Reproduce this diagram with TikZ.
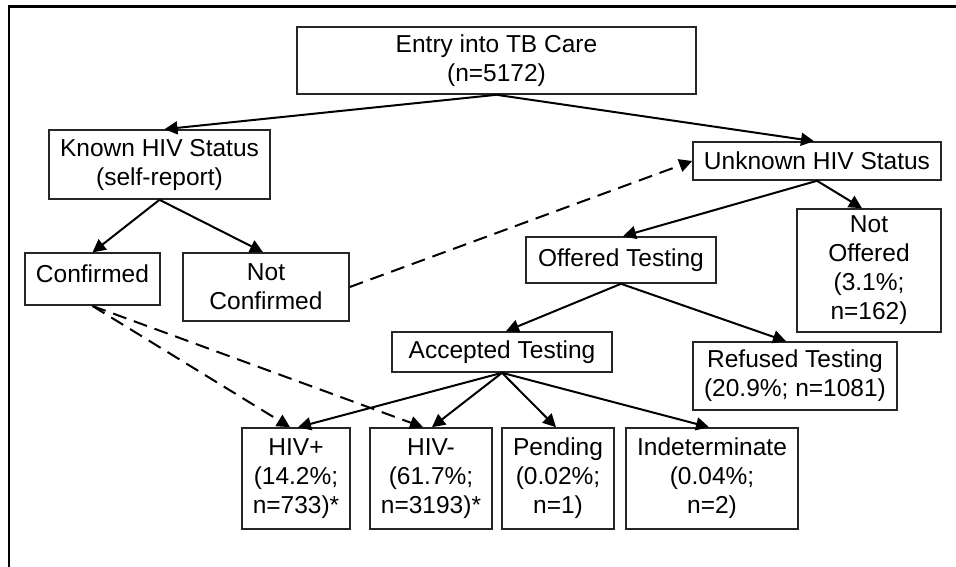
\documentclass[tikz,border=0pt]{standalone}
\usepackage{fontspec}
\setmainfont{Liberation Sans}
\usetikzlibrary{arrows.meta}
\begin{document}
\begin{tikzpicture}[x=1pt,y=-1pt,
  box/.style={draw=black!85,line width=1.6pt,rectangle,inner sep=0pt,align=center,
    font=\fontsize{24.5}{29}\selectfont},
  arr/.style={line width=2pt,-{Triangle[length=13pt,width=13pt]}},
  darr/.style={arr,dash pattern=on 14pt off 8pt}]
\useasboundingbox (0,0) rectangle (956,567);
\draw[line width=2.5pt] (9,567) -- (9,6.5) -- (956,6.5);

\node[box,minimum width=399pt,minimum height=67pt] (entry) at (496.5,60.5) {Entry into TB Care\\(n=5172)};
\node[box,minimum width=221pt,minimum height=69pt] (known) at (159.5,164.5) {Known HIV Status\\(self-report)};
\node[box,minimum width=248pt,minimum height=38pt] (unknown) at (817,161) {Unknown HIV Status};
\node[box,minimum width=135pt,text height=29pt,text depth=23pt,anchor=base] (confirmed) at (92.5,282.2) {Confirmed};
\node[box,minimum width=166pt,minimum height=68pt] (notconf) at (266,287) {Not\\Confirmed};
\node[box,minimum width=190pt,minimum height=46pt] (offered) at (621,260) {Offered Testing};
\node[box,minimum width=144pt,minimum height=123pt] (notoff) at (869,270.5) {Not\\Offered\\(3.1\%;\\n=162)};
\node[box,minimum width=220pt,minimum height=40pt] (accepted) at (502,352) {Accepted Testing};
\node[box,minimum width=204pt,minimum height=68pt] (refused) at (795,376) {Refused Testing\\(20.9\%; n=1081)};
\node[box,minimum width=108pt,minimum height=101pt] (hivp) at (296,478.5) {HIV+\\(14.2\%;\\n=733)*};
\node[box,minimum width=122pt,minimum height=101pt] (hivm) at (431,478.5) {HIV-\\(61.7\%;\\n=3193)*};
\node[box,minimum width=112pt,minimum height=101pt] (pending) at (558,478.5) {Pending\\(0.02\%;\\n=1)};
\node[box,minimum width=172pt,minimum height=101pt] (indet) at (712,478.5) {Indeterminate\\(0.04\%;\\n=2)};

\draw[arr] (entry.south) -- ([xshift=5pt]known.north);
\draw[arr] (entry.south) -- ([xshift=-3pt]unknown.north);
\draw[arr] (known.south) -- (confirmed.north);
\draw[arr] (known.south) -- ([xshift=-3pt]notconf.north);
\draw[darr] (notconf.east) -- (unknown.west);
\draw[arr] (unknown.south) -- ([xshift=2pt]offered.north);
\draw[arr] (unknown.south) -- ([xshift=-7pt]notoff.north);
\draw[arr] (offered.south) -- ([xshift=4pt]accepted.north);
\draw[arr] (offered.south) -- ([xshift=-9pt]refused.north);
\draw[arr] (accepted.south) -- ([xshift=2pt]hivp.north);
\draw[arr] (accepted.south) -- ([xshift=1pt]hivm.north);
\draw[arr] (accepted.south) -- ([xshift=-2pt]pending.north);
\draw[arr] (accepted.south) -- ([xshift=-3pt]indet.north);
\draw[darr] (confirmed.south) -- ([xshift=-6pt]hivp.north);
\draw[darr] (confirmed.south) -- ([xshift=-8pt]hivm.north);
\end{tikzpicture}
\end{document}
